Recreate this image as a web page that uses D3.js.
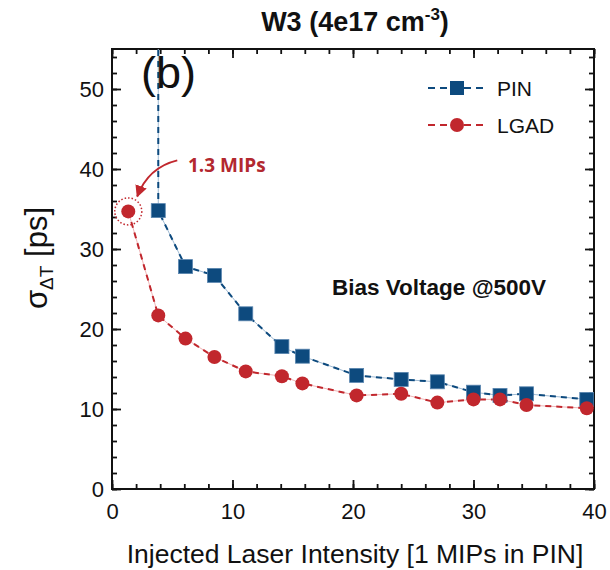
<!DOCTYPE html>
<html>
<head>
<meta charset="utf-8">
<script src="https://cdn.jsdelivr.net/npm/d3@7"></script>
<style>
  body { margin: 0; background: #fff; }
  text { font-family: "Liberation Sans", Arial, sans-serif; }
</style>
</head>
<body>
<svg width="610" height="570"></svg>
<script>
// data
var pinX   = [3.84, 3.84, 6.1, 8.5, 11.1, 14.1, 15.8, 20.3, 24.0, 27.0, 30.0, 32.2, 34.4, 39.4];
var pinY   = [70,   34.8, 27.8, 26.7, 21.9, 17.8, 16.6, 14.2, 13.7, 13.4, 12.1, 11.7, 11.9, 11.2];
var lgadX  = [1.35, 3.84, 6.1, 8.5, 11.1, 14.1, 15.8, 20.3, 24.0, 27.0, 30.0, 32.2, 34.4, 39.4];
var lgadY  = [34.7, 21.7, 18.8, 16.5, 14.7, 14.1, 13.2, 11.7, 11.9, 10.8, 11.2, 11.2, 10.5, 10.1];
var xTicks = [0, 10, 20, 30, 40];
var yTicks = [0, 10, 20, 30, 40, 50];

var layout = {left: 112, right: 594, top: 49, bottom: 489};
var blue = "#0d4a7e", red = "#c1272d";

var svg = d3.select("svg");

var xScale = d3.scaleLinear().domain([0, 40]).range([layout.left, layout.right]);
var yScale = d3.scaleLinear().domain([0, 55]).range([layout.bottom, layout.top]);

function toPoints(xs, ys){
	return xs.map(function(v, i){ return {x: v, y: ys[i]}; });
}
var pin = toPoints(pinX, pinY);
var lgad = toPoints(lgadX, lgadY);

svg.append("defs").append("clipPath")
	.attr("id", "plotclip")
	.append("rect")
	.attr("x", layout.left).attr("y", layout.top)
	.attr("width", layout.right - layout.left)
	.attr("height", layout.bottom - layout.top);

svg.select("defs").append("marker")
	.attr("id", "arrowhead")
	.attr("viewBox", "0 0 10 10")
	.attr("refX", 9).attr("refY", 5)
	.attr("markerWidth", 6).attr("markerHeight", 6)
	.attr("orient", "auto")
	.append("path")
	.attr("d", "M0,0 L10,5 L0,10 Z")
	.attr("fill", red);

// ticks (inward on all four sides)
function tickAxes(){
	var minorX = d3.range(0, 41, 2), minorY = d3.range(0, 55, 2);
	var g = svg.append("g").attr("class", "ticks");
	g.append("g").attr("transform", "translate(0," + layout.bottom + ")")
		.call(d3.axisBottom(xScale).tickValues(minorX).tickSize(-5).tickFormat(""));
	g.append("g").attr("transform", "translate(0," + layout.bottom + ")")
		.call(d3.axisBottom(xScale).tickValues(xTicks).tickSize(-9).tickPadding(14).tickFormat(d3.format("d")));
	g.append("g").attr("transform", "translate(0," + layout.top + ")")
		.call(d3.axisTop(xScale).tickValues(minorX).tickSize(-5).tickFormat(""));
	g.append("g").attr("transform", "translate(0," + layout.top + ")")
		.call(d3.axisTop(xScale).tickValues(xTicks).tickSize(-9).tickFormat(""));
	g.append("g").attr("transform", "translate(" + layout.left + ",0)")
		.call(d3.axisLeft(yScale).tickValues(minorY).tickSize(-5).tickFormat(""));
	g.append("g").attr("transform", "translate(" + layout.left + ",0)")
		.call(d3.axisLeft(yScale).tickValues(yTicks).tickSize(-9).tickPadding(8).tickFormat(d3.format("d")));
	g.append("g").attr("transform", "translate(" + layout.right + ",0)")
		.call(d3.axisRight(yScale).tickValues(minorY).tickSize(-5).tickFormat(""));
	g.append("g").attr("transform", "translate(" + layout.right + ",0)")
		.call(d3.axisRight(yScale).tickValues(yTicks).tickSize(-9).tickFormat(""));
	g.selectAll(".domain").remove();
	g.selectAll(".tick line").attr("stroke", "#111").attr("stroke-width", 1.8);
	g.selectAll(".tick text")
		.attr("font-size", 22)
		.attr("fill", "#111");
}
tickAxes();

// frame
svg.append("rect")
	.attr("x", layout.left).attr("y", layout.top)
	.attr("width", layout.right - layout.left)
	.attr("height", layout.bottom - layout.top)
	.attr("fill", "none")
	.attr("stroke", "#111")
	.attr("stroke-width", 2);

var plot = svg.append("g").attr("clip-path", "url(#plotclip)");

var lineGenerator = d3.line()
	.x(function(d){ return xScale(d.x); })
	.y(function(d){ return yScale(d.y); });

function drawSeries(data, color, light){
	plot.append("path")
		.attr("d", lineGenerator(data))
		.attr("fill", "none")
		.attr("stroke", light)
		.attr("stroke-width", 1);
	plot.append("path")
		.attr("d", lineGenerator(data))
		.attr("fill", "none")
		.attr("stroke", color)
		.attr("stroke-width", 2)
		.attr("stroke-dasharray", "6,5");
}
drawSeries(pin, blue, "#9fbad3");
drawSeries(lgad, red, "#f0b5b7");

plot.selectAll("rect.pin")
	.data(pin.slice(1))
	.enter().append("rect")
	.attr("class", "pin")
	.attr("x", function(d){ return xScale(d.x) - 7; })
	.attr("y", function(d){ return yScale(d.y) - 7; })
	.attr("width", 14).attr("height", 14)
	.attr("fill", blue)
	.attr("stroke", "#5a86b0")
	.attr("stroke-width", 0.8);

plot.selectAll("circle.lgad")
	.data(lgad)
	.enter().append("circle")
	.attr("class", "lgad")
	.attr("cx", function(d){ return xScale(d.x); })
	.attr("cy", function(d){ return yScale(d.y); })
	.attr("r", 7)
	.attr("fill", red);

// dotted ring on the 1.3 MIPs point
svg.append("circle")
	.attr("cx", xScale(lgad[0].x))
	.attr("cy", yScale(lgad[0].y))
	.attr("r", 13.5)
	.attr("fill", "none")
	.attr("stroke", red)
	.attr("stroke-width", 1.5)
	.attr("stroke-dasharray", "1.5,2");

// annotation arrow + label
var ax = xScale(lgad[0].x), ay = yScale(lgad[0].y);
svg.append("path")
	.attr("d", "M" + (ax + 49) + "," + (ay - 51) + " Q" + (ax + 20) + "," + (ay - 44) + " " + (ax + 9) + "," + (ay - 15))
	.attr("fill", "none")
	.attr("stroke", red)
	.attr("stroke-width", 2)
	.attr("marker-end", "url(#arrowhead)");
svg.append("text")
	.attr("x", 188).attr("y", 172)
	.attr("font-size", 19)
	.attr("font-weight", "bold")
	.style("font-family", "'Open Sans', 'Liberation Sans', sans-serif")
	.attr("fill", "#b3282f")
	.text("1.3 MIPs");

// panel label
svg.append("text")
	.attr("x", 141).attr("y", 88)
	.attr("font-size", 45)
	.attr("fill", "#111")
	.text("(b)");

// bias label
svg.append("text")
	.attr("x", 332).attr("y", 295)
	.attr("font-size", 22.5)
	.attr("font-weight", "bold")
	.attr("fill", "#111")
	.text("Bias Voltage @500V");

// legend
var legend = [
	{name: "PIN", color: blue, shape: "square", y: 88},
	{name: "LGAD", color: red, shape: "circle", y: 125}
];
legend.forEach(function(d){
	var g = svg.append("g");
	g.append("line")
		.attr("x1", 428).attr("x2", 486)
		.attr("y1", d.y).attr("y2", d.y)
		.attr("stroke", d.color)
		.attr("stroke-width", 2)
		.attr("stroke-dasharray", "7,5");
	if (d.shape == "square"){
		g.append("rect")
			.attr("x", 450).attr("y", d.y - 7)
			.attr("width", 14).attr("height", 14)
			.attr("fill", d.color);
	} else {
		g.append("circle")
			.attr("cx", 457).attr("cy", d.y)
			.attr("r", 7)
			.attr("fill", d.color);
	}
	g.append("text")
		.attr("x", 497).attr("y", d.y + 8)
		.attr("font-size", 21)
		.attr("fill", "#111")
		.text(d.name);
});

// title
var title = svg.append("text")
	.attr("x", 355).attr("y", 31)
	.attr("text-anchor", "middle")
	.attr("font-size", 27)
	.attr("font-weight", "bold")
	.attr("fill", "#111");
title.append("tspan").text("W3 (4e17 cm");
title.append("tspan").attr("font-size", 17).attr("dy", -11).text("-3");
title.append("tspan").attr("dy", 11).text(")");

// axis titles
svg.append("text")
	.attr("x", 355)
	.attr("y", 563)
	.attr("text-anchor", "middle")
	.attr("font-size", 26.5)
	.attr("fill", "#111")
	.text("Injected Laser Intensity [1 MIPs in PIN]");

var yl = svg.append("text")
	.attr("transform", "translate(47,258) rotate(-90)")
	.attr("text-anchor", "middle")
	.attr("font-size", 31)
	.attr("fill", "#111");
yl.append("tspan").text("σ");
yl.append("tspan").attr("font-size", 19).attr("dy", 6).text("ΔT");
yl.append("tspan").attr("dy", -6).text(" [ps]");
</script>
</body>
</html>
